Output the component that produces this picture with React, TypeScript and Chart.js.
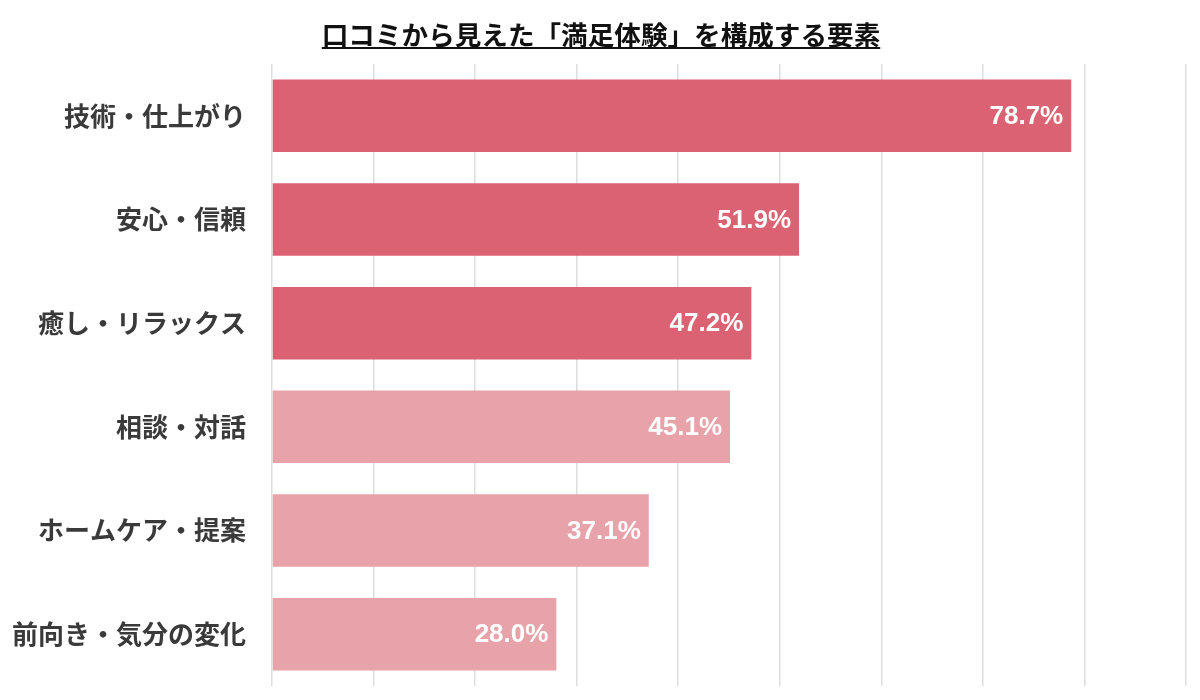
import React, { useEffect, useRef } from 'react';
import { Chart, registerables, Plugin } from 'chart.js';

Chart.register(...registerables);

const title = '口コミから見えた「満足体験」を構成する要素';
const categories = [
  '技術・仕上がり',
  '安心・信頼',
  '癒し・リラックス',
  '相談・対話',
  'ホームケア・提案',
  '前向き・気分の変化',
];
const shares = [78.7, 51.9, 47.2, 45.1, 37.1, 28.0];
const barColors = ['#DB6272', '#DB6272', '#DB6272', '#E8A2A9', '#E8A2A9', '#E8A2A9'];

const jpFont = '"Noto Sans CJK JP", "Noto Sans", sans-serif';

// draws the value at the inner end of each bar
const valueLabels: Plugin<'bar'> = {
  id: 'valueLabels',
  afterDatasetsDraw(chart) {
    const { ctx } = chart;
    const meta = chart.getDatasetMeta(0);
    ctx.save();
    ctx.fillStyle = '#ffffff';
    ctx.font = 'bold 26px "Liberation Sans", Arial, sans-serif';
    ctx.textAlign = 'right';
    ctx.textBaseline = 'middle';
    meta.data.forEach((bar: any, i) => {
      ctx.fillText(shares[i].toFixed(1) + '%', bar.x - 8, bar.y + 1);
    });
    ctx.restore();
  },
};

// title with an underline, centred over the page
const underlinedTitle: Plugin<'bar'> = {
  id: 'underlinedTitle',
  afterDraw(chart) {
    const { ctx } = chart;
    ctx.save();
    ctx.font = `bold 26.6px ${jpFont}`;
    ctx.fillStyle = '#111111';
    ctx.textAlign = 'center';
    ctx.textBaseline = 'middle';
    const cx = 601;
    ctx.fillText(title, cx, 35);
    const w = ctx.measureText(title).width;
    ctx.strokeStyle = '#111111';
    ctx.lineWidth = 2;
    ctx.beginPath();
    ctx.moveTo(cx - w / 2, 48);
    ctx.lineTo(cx + w / 2, 48);
    ctx.stroke();
    ctx.restore();
  },
};

const App: React.FC = () => {
  const canvasRef = useRef<HTMLCanvasElement | null>(null);
  const chartRef = useRef<Chart | null>(null);

  useEffect(() => {
    document.body.style.margin = '0';
    if (!canvasRef.current) return;
    if (chartRef.current) chartRef.current.destroy();

    chartRef.current = new Chart(canvasRef.current, {
      type: 'bar',
      data: {
        labels: categories,
        datasets: [
          {
            data: shares,
            backgroundColor: barColors,
            categoryPercentage: 0.7,
            barPercentage: 1,
          },
        ],
      },
      options: {
        indexAxis: 'y',
        animation: false,
        responsive: true,
        maintainAspectRatio: false,
        layout: { padding: { top: 64, right: 14, bottom: 14, left: 0 } },
        plugins: {
          legend: { display: false },
          tooltip: { enabled: false },
          title: { display: false },
        },
        scales: {
          x: {
            min: 0,
            max: 90,
            afterFit(scale: any) {
              scale.height = 0;
            },
            ticks: { display: false, stepSize: 10 },
            grid: { color: '#dddddd', lineWidth: 1.5, drawTicks: false },
            border: { display: false },
          },
          y: {
            afterFit(scale: any) {
              scale.width = 272;
              scale.paddingTop = 0;
              scale.paddingBottom = 0;
            },
            ticks: {
              color: '#3a3a3a',
              padding: 18,
              font: { family: jpFont, size: 26, weight: 'bold' },
            },
            grid: { display: false },
            border: { display: false },
          },
        },
      },
      plugins: [valueLabels, underlinedTitle],
    });

    return () => {
      if (chartRef.current) {
        chartRef.current.destroy();
        chartRef.current = null;
      }
    };
  }, []);

  return (
    <div style={{ width: '1200px', height: '700px', position: 'relative', background: '#fff' }}>
      <canvas ref={canvasRef} />
    </div>
  );
};

export default App;
